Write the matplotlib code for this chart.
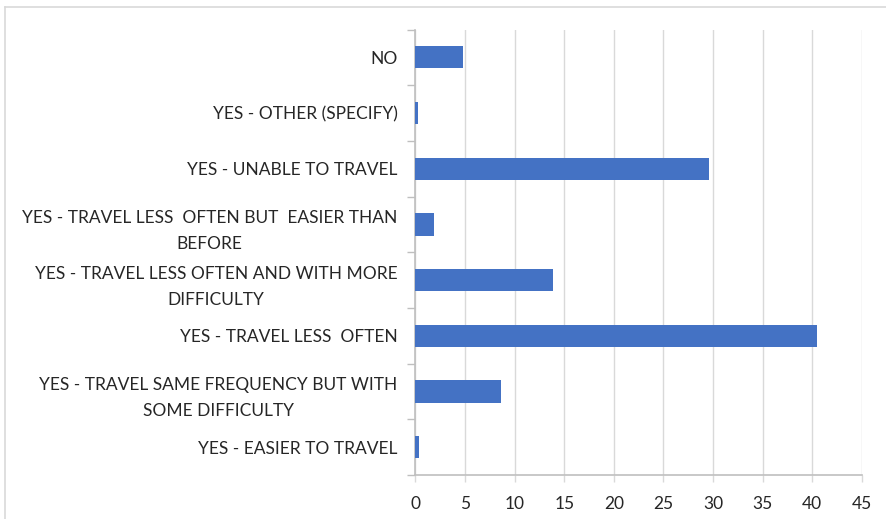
import matplotlib
matplotlib.use("Agg")
import matplotlib.pyplot as plt
from matplotlib.lines import Line2D

# Responses, listed bottom to top
categories = [
    "YES - EASIER TO TRAVEL",
    "YES - TRAVEL SAME FREQUENCY BUT WITH\nSOME DIFFICULTY",
    "YES - TRAVEL LESS  OFTEN",
    "YES - TRAVEL LESS OFTEN AND WITH MORE\nDIFFICULTY",
    "YES - TRAVEL LESS  OFTEN BUT  EASIER THAN\nBEFORE",
    "YES - UNABLE TO TRAVEL",
    "YES - OTHER (SPECIFY)",
    "NO",
]
values = [0.4, 8.6, 40.5, 13.9, 1.9, 29.6, 0.3, 4.8]
x_ticks = [0, 5, 10, 15, 20, 25, 30, 35, 40, 45]

bar_color = "#4472C4"
grid_color = "#d9d9d9"
axis_color = "#bfbfbf"
text_color = "#262626"

plt.rcParams["font.family"] = ["Lato", "DejaVu Sans"]

fig = plt.figure(figsize=(8.87, 5.19), dpi=100)
ax = fig.add_axes([415.5 / 887, 44 / 519, 446.2 / 887, 445.5 / 519])

y = list(range(len(categories)))
ax.barh(y, values, height=0.4, color=bar_color, zorder=3)

ax.set_xlim(0, 45)
ax.set_ylim(-0.5, len(categories) - 0.5)
ax.set_xticks(x_ticks)
ax.set_xticklabels([str(t) for t in x_ticks])
ax.set_yticks(y)
ax.set_yticklabels(categories, multialignment="center", linespacing=1.8)

# Category separators on the value axis
ax.set_yticks([i - 0.5 for i in range(len(categories) + 1)], minor=True)

ax.xaxis.grid(True, color=grid_color, linewidth=1.0, zorder=0)
ax.set_axisbelow(True)

for side in ("top", "right"):
    ax.spines[side].set_visible(False)
for side in ("left", "bottom"):
    ax.spines[side].set_color(axis_color)
    ax.spines[side].set_linewidth(1.2)

ax.tick_params(axis="x", which="major", length=5, width=1, color=grid_color,
               labelsize=12.5, labelcolor=text_color, pad=10)
ax.tick_params(axis="y", which="major", length=0, labelsize=12.5,
               labelcolor=text_color, pad=13)
ax.tick_params(axis="y", which="minor", length=6, width=1, color=axis_color)

# Thin frame around the chart area
fig.add_artist(Line2D([5 / 887, 1.0], [1 - 7 / 519, 1 - 7 / 519],
                      transform=fig.transFigure, color="#d9d9d9", linewidth=1.2))
fig.add_artist(Line2D([5 / 887, 5 / 887], [0.0, 1 - 7 / 519],
                      transform=fig.transFigure, color="#d9d9d9", linewidth=1.2))

fig.savefig("out.png", dpi=100, facecolor="white")
